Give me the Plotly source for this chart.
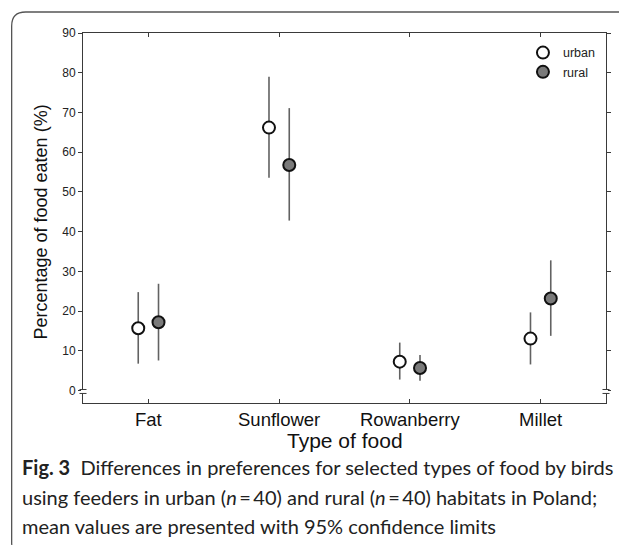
import numpy as np
import plotly.graph_objects as go

# ---- data ----
foods = ["Fat", "Sunflower", "Rowanberry", "Millet"]
urban_mean = [15.7, 66.2, 7.3, 13.1]
urban_low = [6.8, 53.6, 2.8, 6.6]
urban_high = [24.8, 79.0, 12.1, 19.7]
rural_mean = [17.2, 56.8, 5.7, 23.2]
rural_low = [7.6, 42.8, 2.5, 13.8]
rural_high = [26.9, 71.1, 9.0, 32.8]
y_ticks = [0, 10, 20, 30, 40, 50, 60, 70, 80, 90]

W, H = 627, 545
OFF = 8  # default page body margin
L, R, T, B = 83.3, 606.0, 33.0, 403.3  # plot area in screen px


def px(x):
    return (x - L) / (R - L)


def py(y):
    return (B - y) / (B - T)


AX = "#3a3a3a"
EB = "#626262"
SANS = "Liberation Sans, Arial"

um, ul, uh = map(np.array, (urban_mean, urban_low, urban_high))
rm, rl, rh = map(np.array, (rural_mean, rural_low, rural_high))

fig = go.Figure()
fig.add_trace(go.Scatter(
    x=foods, y=um, mode="markers", name="urban", offsetgroup="u",
    marker=dict(symbol="circle", size=12, color="white",
                line=dict(color="#111", width=2)),
    error_y=dict(type="data", symmetric=False, array=uh - um,
                 arrayminus=um - ul, color=EB, thickness=1.6, width=0),
))
fig.add_trace(go.Scatter(
    x=foods, y=rm, mode="markers", name="rural", offsetgroup="r",
    marker=dict(symbol="circle", size=12, color="#7a7a7a",
                line=dict(color="#111", width=2)),
    error_y=dict(type="data", symmetric=False, array=rh - rm,
                 arrayminus=rm - rl, color=EB, thickness=1.6, width=0),
))

shapes = []
# axis break marks at y=0 on both vertical axes
for xa in (0, 1):
    shapes.append(dict(type="rect", xref="paper", yref="y", xsizemode="pixel",
                       xanchor=xa, x0=-2, x1=2, y0=-0.7, y1=0.3,
                       fillcolor="white", line=dict(width=0), layer="above"))
    for yv in (0.3, -0.7):
        shapes.append(dict(type="line", xref="paper", yref="y", xsizemode="pixel",
                           xanchor=xa, x0=-3.5, x1=3.5, y0=yv, y1=yv,
                           line=dict(color=AX, width=1), layer="above"))

# rounded outer frame
fx0, fy0, fx1, fy1, rr = 12, 12, 640, 558, 14
path = (f"M {px(fx0)},{py(fy0 + rr)} Q {px(fx0)},{py(fy0)} {px(fx0 + rr)},{py(fy0)} "
        f"L {px(fx1 - rr)},{py(fy0)} Q {px(fx1)},{py(fy0)} {px(fx1)},{py(fy0 + rr)} "
        f"L {px(fx1)},{py(fy1 - rr)} Q {px(fx1)},{py(fy1)} {px(fx1 - rr)},{py(fy1)} "
        f"L {px(fx0 + rr)},{py(fy1)} Q {px(fx0)},{py(fy1)} {px(fx0)},{py(fy1 - rr)} Z")
shapes.append(dict(type="path", xref="paper", yref="paper", path=path,
                   line=dict(color="#555", width=1.3), layer="below"))

cap_font = dict(family="Lato", size=20, color="#222")
annotations = [
    dict(text="Type of food", xref="paper", yref="paper", x=0.5, y=py(441),
         showarrow=False, xanchor="center", yanchor="middle",
         font=dict(family=SANS, size=21, color="#111")),
    dict(text="Percentage of food eaten (%)", xref="paper", yref="paper",
         x=px(41), y=py(222), textangle=-90, showarrow=False,
         xanchor="center", yanchor="middle",
         font=dict(family=SANS, size=18, color="#111")),
    dict(text="<b>Fig. 3</b>  Differences in preferences for selected types of food by birds",
         xref="paper", yref="paper", x=px(20), y=py(467), showarrow=False,
         xanchor="left", yanchor="middle", font=cap_font),
    dict(text="using feeders in urban (<i>n</i>\u2009=\u200940) and rural (<i>n</i>\u2009=\u200940) habitats in Poland;",
         xref="paper", yref="paper", x=px(20), y=py(497), showarrow=False,
         xanchor="left", yanchor="middle", font=cap_font),
    dict(text="mean values are presented with 95% confidence limits",
         xref="paper", yref="paper", x=px(20), y=py(526), showarrow=False,
         xanchor="left", yanchor="middle", font=cap_font),
]

fig.update_layout(
    width=W, height=H,
    margin=dict(l=L - OFF, r=W - (R - OFF), t=T - OFF, b=H - (B - OFF), pad=0),
    paper_bgcolor="white", plot_bgcolor="white",
    scattermode="group", scattergap=0.69,
    showlegend=True,
    legend=dict(x=px(523), y=py(38), xanchor="left", yanchor="top",
                bgcolor="rgba(0,0,0,0)", font=dict(family=SANS, size=12.5, color="#222"),
                itemwidth=30, tracegroupgap=0),
    shapes=shapes, annotations=annotations,
    xaxis=dict(type="category", range=[-0.5, 3.5], showgrid=False, zeroline=False,
               showline=True, linecolor=AX, linewidth=1, mirror="ticks",
               ticks="inside", ticklen=4, tickcolor=AX,
               tickfont=dict(family=SANS, size=18.5, color="#111")),
    yaxis=dict(range=[-3.1, 90], tickvals=y_ticks, showgrid=False, zeroline=False,
               showline=True, linecolor=AX, linewidth=1, mirror="ticks",
               ticks="outside", ticklen=4, tickcolor=AX,
               tickfont=dict(family=SANS, size=12, color="#222")),
)

fig.write_html("out.html")
